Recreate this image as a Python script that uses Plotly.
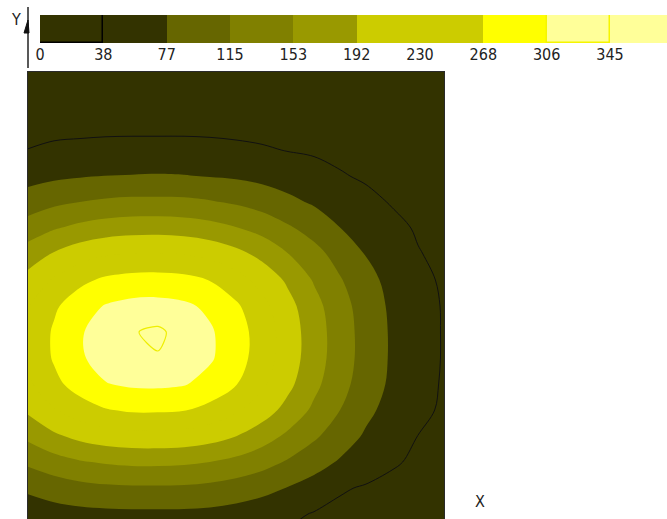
import plotly.graph_objects as go

# Grid coordinates (plot units) and field values
x_vals = [0, 26, 52, 78, 104, 130, 156, 182, 208, 234, 260, 286, 312, 338, 364, 390, 416]
y_vals = [-21, 5, 31, 57, 83, 109, 135, 161, 187, 213, 239, 265, 291, 317, 343, 369, 395, 421, 447]
z_vals = [
    [35, 37, 39, 41, 42, 42, 42, 40, 38, 35, 31, 27, 23, 20, 16, 12, 10],
    [56, 62, 66, 68, 69, 69, 69, 67, 62, 55, 46, 36, 30, 26, 22, 18, 14],
    [83, 94, 103, 108, 110, 110, 109, 105, 98, 88, 75, 62, 42, 35, 30, 25, 20],
    [122, 138, 150, 157, 161, 161, 159, 153, 143, 129, 111, 91, 73, 57, 42, 33, 26],
    [162, 185, 202, 213, 218, 219, 216, 207, 192, 171, 146, 121, 95, 72, 55, 38, 31],
    [198, 227, 250, 266, 273, 273, 270, 257, 236, 210, 179, 146, 115, 85, 64, 46, 34],
    [223, 258, 285, 305, 312, 313, 309, 293, 270, 237, 201, 163, 128, 96, 70, 51, 35],
    [235, 272, 302, 321, 340, 342, 328, 311, 284, 250, 211, 171, 134, 100, 72, 53, 36],
    [235, 273, 303, 323, 342, 352, 329, 311, 285, 251, 211, 172, 134, 100, 72, 53, 36],
    [227, 262, 290, 309, 317, 318, 313, 299, 274, 241, 204, 166, 130, 97, 70, 51, 36],
    [205, 234, 259, 275, 282, 283, 279, 267, 245, 217, 185, 150, 118, 88, 66, 47, 34],
    [171, 195, 214, 226, 231, 232, 229, 219, 203, 181, 154, 128, 100, 75, 58, 40, 31],
    [133, 150, 163, 172, 176, 177, 174, 167, 155, 140, 120, 100, 77, 62, 47, 35, 28],
    [94, 107, 115, 121, 124, 124, 123, 118, 110, 99, 85, 72, 60, 47, 36, 29, 23],
    [64, 70, 74, 77, 78, 79, 78, 75, 72, 66, 59, 51, 41, 34, 29, 23, 17],
    [39, 45, 48, 50, 51, 51, 51, 49, 46, 42, 37, 34, 30, 26, 21, 16, 12],
    [24, 26, 26, 27, 27, 27, 27, 27, 26, 25, 23, 22, 19, 16, 13, 11, 9],
    [15, 16, 17, 17, 18, 18, 17, 17, 16, 15, 14, 13, 11, 10, 8, 6, 5],
    [9, 10, 10, 11, 11, 11, 11, 11, 10, 10, 9, 8, 7, 6, 5, 3, 1],
]

levels = [0, 38.3, 76.6, 114.9, 153.2, 191.5, 229.8, 268.1, 306.4, 344.7, 383.0]
labels = ["0", "38", "77", "115", "153", "192", "230", "268", "306", "345"]
band_colors = ["#333300", "#333300", "#666600", "#808000", "#999900",
               "#cccc00", "#cccc00", "#ffff00", "#ffff99", "#ffff99"]

FONT = "Liberation Sans Narrow, DejaVu Sans Condensed, Arial Narrow, sans-serif"

n = len(levels)
cs = ([[0.0, band_colors[0]]] + [[(k + 1) / n, c] for k, c in enumerate(band_colors)]
      + [[1.0, band_colors[-1]]])

fig = go.Figure()
fig.add_trace(go.Contour(x=x_vals, y=y_vals, z=z_vals, colorscale=cs, showscale=False,
                         contours=dict(start=levels[0], end=levels[-1], size=levels[1] - levels[0],
                                       coloring="fill", showlines=False),
                         line=dict(width=0, smoothing=1.0), hoverinfo="skip"))
fig.add_trace(go.Contour(x=x_vals, y=y_vals, z=z_vals, showscale=False,
                         contours=dict(start=levels[1], end=levels[1], size=1, coloring="none"),
                         line=dict(color="#111111", width=1, smoothing=1.0), hoverinfo="skip"))
fig.add_trace(go.Contour(x=x_vals, y=y_vals, z=z_vals, showscale=False,
                         contours=dict(start=levels[9], end=levels[9], size=1, coloring="none"),
                         line=dict(color="#eeee00", width=1.2, smoothing=0.8), hoverinfo="skip"))

widths = [levels[i + 1] - levels[i] for i in range(len(labels))]
line_cols = ["#000000"] + band_colors[1:8] + ["#f5f500", band_colors[9]]
line_w = [1.5, 0, 0, 0, 0, 0, 0, 0, 1.5, 0]
fig.add_trace(go.Bar(x=widths, base=levels[:-1], y=[0] * len(labels), orientation="h", width=1,
                     marker=dict(color=band_colors, line=dict(color=line_cols, width=line_w)),
                     xaxis="x2", yaxis="y2", hoverinfo="skip", showlegend=False))

W, H = 667, 519
fig.update_layout(
    template="none",
    width=W, height=H, margin=dict(l=0, r=0, t=0, b=0, pad=0, autoexpand=False),
    paper_bgcolor="white", plot_bgcolor="white", showlegend=False,
    xaxis=dict(domain=[28 / W, 444 / W], range=[0, 416], showgrid=False, zeroline=False,
               showticklabels=False, ticks="", showline=True, linecolor="#2a2a2a", linewidth=1,
               side="top", automargin=False),
    yaxis=dict(domain=[0, 447 / H], range=[0, 447], showgrid=False, zeroline=False,
               showticklabels=False, ticks="", showline=True, mirror=True,
               linecolor="#2a2a2a", linewidth=1, automargin=False),
    xaxis2=dict(domain=[40 / W, 1], range=[0, (667 - 40) / 1.6536], anchor="y2",
                showgrid=False, zeroline=False, showline=False, ticks="", automargin=False,
                tickvals=levels[:-1], ticktext=labels,
                tickfont=dict(family=FONT, size=16, color="#222222")),
    yaxis2=dict(domain=[1 - 43 / H, 1 - 15 / H], range=[-0.5, 0.5], showgrid=False,
                zeroline=False, showticklabels=False, showline=False, automargin=False),
    bargap=0,
)
fig.add_shape(type="line", xref="paper", yref="paper", x0=28 / W, x1=28 / W,
              y0=1 - 7 / H, y1=1 - 68 / H, line=dict(color="#222222", width=1.5))
fig.add_shape(type="path", xref="paper", yref="paper",
              path=f"M {28/W} {1-20/H} L {24/W} {1-33/H} L {29/W} {1-33/H} Z",
              fillcolor="#111111", line=dict(color="#111111", width=1))
fig.add_annotation(text="Y", xref="paper", yref="paper", x=15.5 / W, y=1 - 19.5 / H,
                   xanchor="center", yanchor="middle", showarrow=False,
                   font=dict(family=FONT, size=16, color="#222222"))
fig.add_annotation(text="X", xref="paper", yref="paper", x=480 / W, y=1 - 501.5 / H,
                   xanchor="center", yanchor="middle", showarrow=False,
                   font=dict(family=FONT, size=16, color="#222222"))

fig.write_html("out.html", config={"displayModeBar": False},
               post_script="document.body.style.margin='0px';")
